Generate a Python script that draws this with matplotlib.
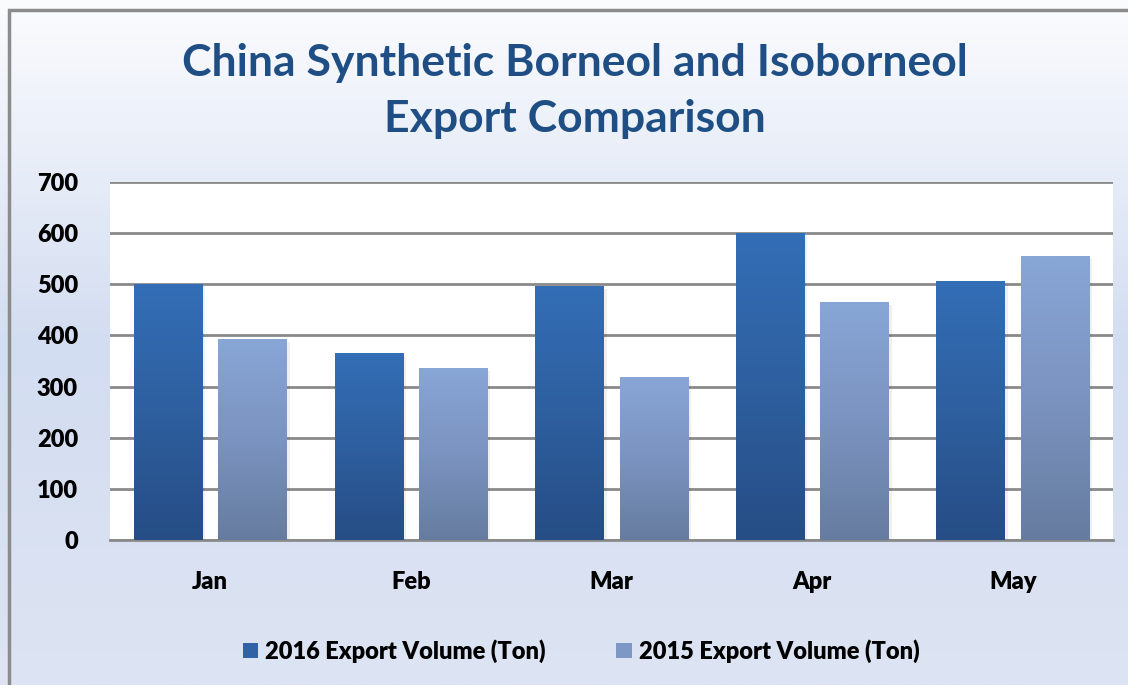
import matplotlib
matplotlib.use('Agg')
import numpy as np
import matplotlib.pyplot as plt
from matplotlib.colors import LinearSegmentedColormap
from matplotlib.patches import Rectangle, Patch

months = ['Jan', 'Feb', 'Mar', 'Apr', 'May']
export_2016 = [500, 364, 495, 600, 505]
export_2015 = [392, 335, 317, 464, 554]
series_names = ['2016 Export Volume (Ton)', '2015 Export Volume (Ton)']

plt.rcParams['font.family'] = ['Lato', 'DejaVu Sans']
plt.rcParams['font.weight'] = 'heavy'

fig = plt.figure(figsize=(11.28, 6.85), dpi=100)

# background gradient for the whole chart
bg = fig.add_axes([0, 0, 1, 1], zorder=-10)
bg_cmap = LinearSegmentedColormap.from_list('bg', ['#fbfcfe', '#d3ddf1', '#dde4f3'])
bg.imshow(np.linspace(0, 1, 256).reshape(-1, 1), aspect='auto', cmap=bg_cmap,
          extent=[0, 1, 0, 1], origin='upper')
bg.set_axis_off()
fig.patches.append(Rectangle((9 / 1128, -0.05), 1.1, 1 - 10 / 685 + 0.05,
                             transform=fig.transFigure, fill=False,
                             edgecolor='#8c8c8c', linewidth=2.5))

ax = fig.add_axes([110 / 1128, 1 - 540 / 685, 1003 / 1128, 358 / 685])
ax.set_facecolor('white')

x = np.arange(len(months))
w = 0.34
off = 0.21
bars16 = ax.bar(x - off, export_2016, w, color='none', zorder=3)
bars15 = ax.bar(x + off, export_2015, w, color='none', zorder=3)

cmap16 = LinearSegmentedColormap.from_list('c16', ['#336eb6', '#2e5f9f', '#264d85'])
cmap15 = LinearSegmentedColormap.from_list('c15', ['#88a6d6', '#7b93c0', '#667c9f'])
grad = np.linspace(0, 1, 256).reshape(-1, 1)
for bars, cm in [(bars16, cmap16), (bars15, cmap15)]:
    for b in bars:
        bx, bw, bh = b.get_x(), b.get_width(), b.get_height()
        # soft shadow to the right
        ax.add_patch(Rectangle((bx + 0.006, 0), bw + 0.01, bh - 4, color='#000000',
                               alpha=0.06, zorder=2, linewidth=0))
        ax.imshow(grad, aspect='auto', cmap=cm, origin='upper',
                  extent=[bx, bx + bw, 0, bh], zorder=4)

ax.set_xlim(-0.5, len(months) - 0.5)
ax.set_ylim(0, 700)
ax.set_yticks(range(0, 701, 100))
ax.set_xticks(x)
ax.set_xticklabels(months)
ax.grid(axis='y', color='#8a8a8a', linewidth=2, zorder=1)
ax.set_axisbelow(True)
for s in ['left', 'right', 'top']:
    ax.spines[s].set_visible(False)
ax.spines['bottom'].set_color('#8a8a8a')
ax.spines['bottom'].set_linewidth(2)
ax.tick_params(axis='y', length=0, pad=23, labelsize=17)
ax.tick_params(axis='x', length=0, pad=22, labelsize=17)

fig.text(0.51, 1 - 91 / 685, 'China Synthetic Borneol and Isoborneol\nExport Comparison',
         ha='center', va='center', fontsize=32, fontweight='bold', color='#1f4e84',
         linespacing=1.5)

handles = [Patch(facecolor='#2f62a6', edgecolor='none'),
           Patch(facecolor='#7f97c4', edgecolor='none')]
fig.legend(handles, series_names, loc='center', bbox_to_anchor=(0.515, 1 - 651 / 685),
           ncol=2, frameon=False, prop={'weight': 'heavy', 'size': 17},
           handlelength=0.65, handleheight=0.65, handletextpad=0.3, columnspacing=3)

fig.savefig('out.png', dpi=100)
